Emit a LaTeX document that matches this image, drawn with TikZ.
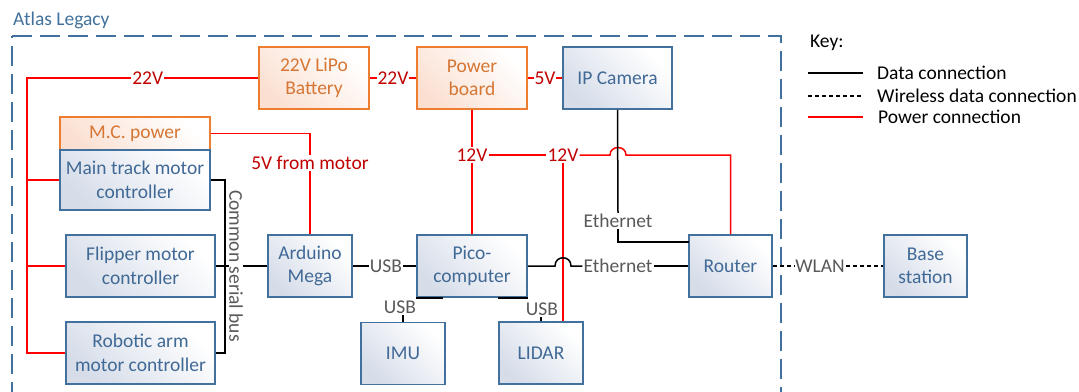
\documentclass[tikz,border=0pt]{standalone}
\usepackage{fontspec}
\setmainfont{Carlito}
\newcommand\fsz{\fontsize{19.5}{23.5}\selectfont}
\definecolor{bblue}{RGB}{65,113,156}
\definecolor{btext}{RGB}{65,105,150}
\definecolor{oborder}{RGB}{237,125,49}
\definecolor{otext}{RGB}{213,118,52}
\definecolor{bfill}{RGB}{214,221,233}
\definecolor{ofill}{RGB}{251,224,210}
\definecolor{pred}{RGB}{255,0,0}
\definecolor{ptext}{RGB}{192,0,0}
\definecolor{gtext}{RGB}{89,89,89}
\begin{document}
\begin{tikzpicture}[x=1pt,y=-1pt,
  bbox/.style={draw=bblue, line width=1.6pt, text=btext, align=center, inner sep=0pt,
    top color=bfill, bottom color=white, shading angle=135, font=\fsz},
  obox/.style={draw=oborder, line width=1.6pt, text=otext, align=center, inner sep=0pt,
    top color=ofill, bottom color=white, shading angle=135, font=\fsz},
  pw/.style={draw=pred, line width=1.5pt},
  dl/.style={draw=black, line width=1.5pt},
  wl/.style={draw=black, line width=1.8pt, dash pattern=on 4pt off 3pt},
  plbl/.style={text=ptext, font=\fsz, inner sep=1pt, fill=white},
  dlbl/.style={text=gtext, font=\fsz, inner sep=1pt, fill=white},
  frame/.style={draw=bblue, line width=2.5pt, dash pattern=on 20pt off 8pt},
  ktext/.style={anchor=west, font=\fsz, inner sep=0pt, text=black}]
\useasboundingbox (0,0) rectangle (1079,391);
\clip (0,0) rectangle (1079,391);
\draw[frame] (12,36) -- (781,36) -- (781,430) -- (12,430) -- cycle;
\node[anchor=west, text=bblue, font=\fsz, inner sep=0pt] (title) at (13,20) {Atlas Legacy};

% boxes
\node[obox, minimum width=110, minimum height=62] (bat) at (314,78) {22V LiPo\\Battery};
\node[obox, minimum width=110, minimum height=62] (pwr) at (472,78) {Power\\board};
\node[bbox, minimum width=109, minimum height=62] (cam) at (617.5,78) {IP Camera};
\node[obox, minimum width=150, minimum height=33] (mcp) at (135,133.5) {M.C. power};
\node[bbox, minimum width=150, minimum height=60] (mtmc) at (135,180) {Main track motor\\controller};
\node[bbox, minimum width=149, minimum height=62] (flip) at (140.5,266) {Flipper motor\\controller};
\node[bbox, minimum width=149, minimum height=62] (arm) at (140.5,353) {Robotic arm\\motor controller};
\node[bbox, minimum width=84, minimum height=62] (ard) at (310,266) {Arduino\\Mega};
\node[bbox, minimum width=110, minimum height=62] (pico) at (472,266) {Pico-\\computer};
\node[bbox, minimum width=84, minimum height=62] (imu) at (403,353.5) {IMU};
\node[bbox, minimum width=84, minimum height=62] (lidar) at (541,353) {LIDAR};
\node[bbox, minimum width=83, minimum height=62] (router) at (730.5,266) {Router};
\node[bbox, minimum width=83, minimum height=62] (base) at (925.5,266) {Base\\station};

% power connections
\coordinate (pa) at (27,78);
\coordinate (pb) at (27,353);
\draw[pw] (bat.west) -- node[plbl, pos=0.478]{22V} (pa) -- (pb) -- (arm.west);
\draw[pw] (mtmc.west) -- (mtmc.west -| pa);
\draw[pw] (flip.west) -- (flip.west -| pa);
\draw[pw] (bat.east) -- node[plbl]{22V} (pwr.west);
\draw[pw] (pwr.east) -- node[plbl]{5V} (cam.west);
\draw[pw] (mcp.east) -| node[plbl, pos=0.647]{5V from motor} (ard.north);
\node[plbl] (v12a) at (472,155) {12V};
\node[plbl] (v12b) at (563,155) {12V};
\draw[pw] (pwr.south) -- (v12a.north);
\draw[pw] (v12a.south) -- (pico.north);
\draw[pw] (v12a.east) -- (v12b.west);
\coordinate (hop1) at (610,155);
\coordinate (hop2) at (626,155);
\draw[pw] (v12b.east) -- (hop1) .. controls (610,145) and (626,145) .. (hop2) -- (router.north |- hop2) -- (router.north);
\draw[pw] (v12b.south) -- (v12b.south |- lidar.north);

% data connections
\node[dlbl] (eth1) at (618,221) {Ethernet};
\draw[dl] (cam.south) -- (eth1.north);
\coordinate (rt) at (689,242);
\draw[dl] (eth1.south) -- (eth1.south |- rt) -- (rt);
\node[dlbl] (eth2) at (618,266) {Ethernet};
\coordinate (hop3) at (555,266);
\coordinate (hop4) at (571,266);
\draw[dl] (pico.east) -- (hop3) .. controls (555,255) and (571,255) .. (hop4) -- (eth2.west);
\draw[dl] (eth2.east) -- (router.west);
\node[dlbl] (usb0) at (386,266) {USB};
\draw[dl] (ard.east) -- (usb0.west);
\draw[dl] (usb0.east) -- (pico.west);
\node[dlbl] (wlan) at (820,266) {WLAN};
\draw[wl] (router.east) -- (wlan.west);
\draw[wl] (wlan.east) -- (base.west);
\coordinate (bt) at (225,180);
\coordinate (bb) at (225,353);
\draw[dl] (mtmc.east) -- (bt) -- (bb) -- (arm.east);
\draw[dl] (flip.east) -- (ard.west);
\node[dlbl, rotate=-90, inner sep=0pt] (bus) at (236,266) {Common serial bus};
\node[dlbl] (usb1) at (400,307) {USB};
\draw[dl] (imu.north) -- (imu.north |- usb1.south);
\draw[dl] (pico.south west) -- ++(27,0);
\draw[dl] (pico.south east) -- ++(-30,0);
\node[dlbl] (usb2) at (542,309) {USB};
\draw[dl] (lidar.north) -- (lidar.north |- usb2.south);

% key
\node[ktext] (key) at (810,43) {Key:};
\coordinate (k1a) at (808,73); \coordinate (k1b) at (863,73);
\coordinate (k2a) at (808,96); \coordinate (k2b) at (863,96);
\coordinate (k3a) at (808,117); \coordinate (k3b) at (863,117);
\draw[dl] (k1a) -- (k1b);
\draw[wl] (k2a) -- (k2b);
\draw[pw] (k3a) -- (k3b);
\node[ktext] (kt1) at (877,73) {Data connection};
\node[ktext] (kt2) at (877,96) {Wireless data connection};
\node[ktext] (kt3) at (878,117) {Power connection};
\end{tikzpicture}
\end{document}
